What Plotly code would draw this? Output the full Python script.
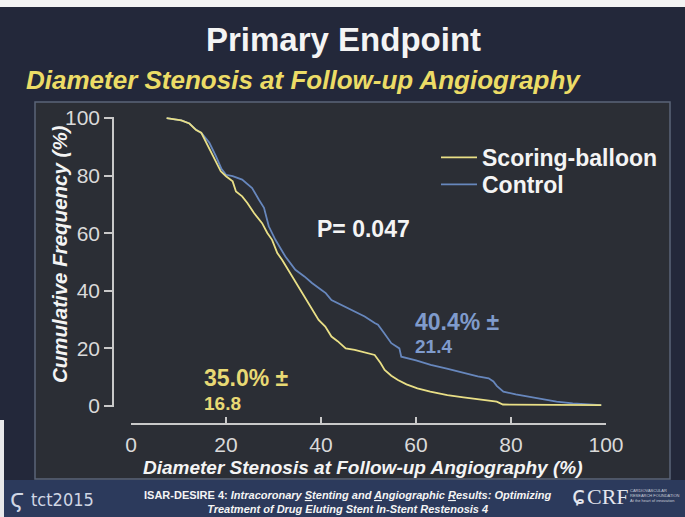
import plotly.graph_objects as go

W, H = 685, 517

# ---------------- data ----------------
scoring_x = [7.5, 10.6, 12.3, 13.7, 14.8, 15.7, 17.2, 18.9, 20.0, 21.4, 22.1, 23.4, 24.5, 25.9,
             27.6, 28.7, 29.7, 30.8, 31.8, 33.5, 35.3, 37.0, 38.8, 39.5, 40.9, 42.2, 43.5, 45.2,
             47.1, 49.5, 51.3, 52.5, 53.4, 54.8, 56.2, 58.0, 60.3, 63.0, 66.6, 70.0, 74.0, 77.0,
             78.3, 85.0, 92.0, 99.0]
scoring_y = [100, 99.2, 98.1, 95.8, 94.9, 91.9, 87.3, 81.5, 79.8, 78.0, 74.5, 72.8, 70.5, 67.0,
             63.5, 60.1, 57.7, 53.1, 50.8, 46.2, 41.5, 36.9, 32.2, 29.9, 27.6, 24.1, 22.5, 20.0,
             19.5, 18.5, 17.7, 15.0, 12.5, 10.5, 9.0, 7.5, 6.1, 5.0, 3.8, 3.0, 2.2, 1.5,
             0.5, 0.5, 0.4, 0.3]

control_x = [7.5, 10.6, 12.3, 13.7, 15.0, 16.5, 17.9, 19.0, 20.0, 21.4, 23.4, 25.5, 26.9, 28.0,
             29.0, 30.4, 32.5, 34.6, 36.5, 38.1, 40.1, 41.0, 42.2, 45.7, 49.2, 51.3, 52.0, 53.2,
             54.8, 56.5, 56.9, 60.0, 63.1, 66.5, 70.1, 73.0, 75.3, 76.3, 77.0, 78.4, 81.0, 84.0,
             87.0, 89.6, 93.0, 96.5, 99.0]
control_y = [100, 99.2, 98.1, 96.0, 94.5, 91.4, 86.7, 82.5, 80.3, 79.8, 78.6, 75.7, 71.7, 68.8,
             62.4, 57.7, 51.9, 47.3, 45.0, 42.7, 40.3, 39.2, 36.8, 34.0, 31.1, 28.8, 28.2, 25.5,
             21.8, 20.0, 17.1, 15.8, 14.3, 13.0, 11.4, 10.3, 9.6, 8.5, 7.0, 5.0, 4.0, 3.2,
             2.3, 1.5, 0.9, 0.6, 0.3]

x_ticks = [0, 20, 40, 60, 80, 100]
y_ticks = [0, 20, 40, 60, 80, 100]

series_names = ["Scoring-balloon", "Control"]
mean_labels = ["35.0% ±", "40.4% ±"]
sd_labels = ["16.8", "21.4"]
p_value_label = "P= 0.047"

# ---------------- styling ----------------
FONT = "Liberation Sans, Arial, Helvetica, sans-serif"
YELLOW = "#e9df86"
YELLOW_TXT = "#e8d974"
BLUE = "#6787bd"
BLUE_TXT = "#7f9bcc"
WHITE = "#f4f4f4"
AXIS = "#c9c9c9"


def px(x):
    return x / W


def py(y):
    return 1 - y / H


fig = go.Figure()

fig.add_trace(go.Scatter(
    x=control_x, y=control_y, mode="lines", name="<b>" + series_names[1] + "</b>",
    line=dict(color=BLUE, width=1.8), legend="legend2", hoverinfo="skip"))
fig.add_trace(go.Scatter(
    x=scoring_x, y=scoring_y, mode="lines", name="<b>" + series_names[0] + "</b>",
    line=dict(color=YELLOW, width=1.8), legend="legend", hoverinfo="skip"))

shapes = [
    # footer band
    dict(type="rect", xref="paper", yref="paper", x0=0, x1=1, y0=0, y1=py(480),
         fillcolor="#2c3a5c", line=dict(width=0), layer="below"),
    # chart panel
    dict(type="rect", xref="paper", yref="paper", x0=px(35), x1=px(670), y0=py(479), y1=py(102),
         fillcolor="#2b2e35", line=dict(color="#5b6478", width=1.5), layer="below"),
    # top scan strip
    dict(type="rect", xref="paper", yref="paper", x0=0, x1=1, y0=py(7), y1=1,
         fillcolor="#f3f3f3", line=dict(width=0), layer="above"),
    # left scan edge
    dict(type="rect", xref="paper", yref="paper", x0=0, x1=px(4), y0=0, y1=py(420),
         fillcolor="#e8e8ea", line=dict(width=0), layer="above"),
]

annotations = [
    dict(text="<b>Primary Endpoint</b>", x=px(343), y=py(40), font=dict(size=33, color=WHITE)),
    dict(text="<b><i>Diameter Stenosis at Follow-up Angiography</i></b>", x=px(303), y=py(80),
         font=dict(size=26, color="#ecdc66")),
    dict(text="<b><i>Cumulative Frequency (%)</i></b>", x=px(60), y=py(254), textangle=-90,
         font=dict(size=20.5, color=WHITE)),
    dict(text="<b><i>Diameter Stenosis at Follow-up Angiography (%)</i></b>", x=px(363), y=py(467),
         font=dict(size=19, color=WHITE)),
    dict(text="<b>" + p_value_label + "</b>", x=px(363), y=py(229), font=dict(size=23, color=WHITE)),
    dict(text="<b>" + mean_labels[1] + "</b>", x=px(413), y=py(322), xanchor="left",
         font=dict(size=23, color=BLUE_TXT)),
    dict(text="<b>" + sd_labels[1] + "</b>", x=px(413), y=py(346), xanchor="left",
         font=dict(size=19, color=BLUE_TXT)),
    dict(text="<b>" + mean_labels[0] + "</b>", x=px(202), y=py(378), xanchor="left",
         font=dict(size=23, color=YELLOW_TXT)),
    dict(text="<b>" + sd_labels[0] + "</b>", x=px(202), y=py(403), xanchor="left",
         font=dict(size=19, color=YELLOW_TXT)),
    # footer
    dict(text="<b>ISAR-DESIRE 4: <i>Intracoronary <u>S</u>tenting and <u>A</u>ngiographic "
              "<u>R</u>esults: Optimizing</i></b><br><b><i>Treatment of Drug Eluting Stent "
              "In-Stent Restenosis 4</i></b>",
         x=px(348), y=py(502), font=dict(size=11, color=WHITE)),
    dict(text="ϛ", x=px(17), y=py(499), font=dict(size=24, color="#d0d6e4",
         family="DejaVu Sans, sans-serif")),
    dict(text="tct2015", x=px(29), y=py(499), xanchor="left", font=dict(size=18, color="#d0d6e4",
         family="DejaVu Sans Condensed, Liberation Sans Narrow, sans-serif")),
    dict(text="ɕ", x=px(578), y=py(496), font=dict(size=24, color="#e3e6ee",
         family="DejaVu Sans, sans-serif")),
    dict(text="CRF", x=px(608), y=py(496), font=dict(size=22, color="#e3e6ee",
         family="Liberation Serif, DejaVu Serif, serif")),
    dict(text="CARDIOVASCULAR<br>RESEARCH FOUNDATION<br>At the heart of innovation", x=px(628),
         y=py(495), xanchor="left", align="left", font=dict(size=4, color="#c8ccd8")),
]
for a in annotations:
    a.setdefault("xref", "paper")
    a.setdefault("yref", "paper")
    a.setdefault("showarrow", False)
    a.setdefault("xanchor", "center")
    a.setdefault("yanchor", "middle")

legend_style = dict(xanchor="left", yanchor="top", bgcolor="rgba(0,0,0,0)",
                    font=dict(size=23, color=WHITE), itemwidth=36)

fig.update_layout(
    width=W, height=H,
    margin=dict(l=0, r=0, t=0, b=0, autoexpand=False),
    paper_bgcolor="#23283a",
    plot_bgcolor="rgba(0,0,0,0)",
    font=dict(family=FONT, color=WHITE),
    showlegend=True,
    legend=dict(x=px(436), y=py(136), **legend_style),
    legend2=dict(x=px(436), y=py(163), **legend_style),
    shapes=shapes,
    annotations=annotations,
    xaxis=dict(range=[0, 100], domain=[px(131), px(606)], anchor="free", position=py(424),
               showline=True, linecolor=AXIS, linewidth=1.5, ticks="inside", ticklen=6,
               tickcolor=AXIS, tickwidth=1.5, tickvals=x_ticks, ticktext=[str(v) for v in x_ticks],
               tickfont=dict(size=21, color="#dadada"), showgrid=False, zeroline=False,
               ticklabelstandoff=2, fixedrange=True, automargin=False),
    yaxis=dict(range=[-0.5, 100.5], domain=[py(407.4), py(116.6)], anchor="free", position=px(113),
               showline=True, linecolor=AXIS, linewidth=1.5, ticks="outside", ticklen=8,
               tickcolor=AXIS, tickwidth=1.5, tickvals=y_ticks, ticktext=[str(v) for v in y_ticks],
               tickfont=dict(size=21, color="#dadada"), showgrid=False, zeroline=False,
               fixedrange=True, automargin=False),
)

fig.write_html("out.html", config={"displayModeBar": False},
               post_script="document.body.style.margin='0';")
